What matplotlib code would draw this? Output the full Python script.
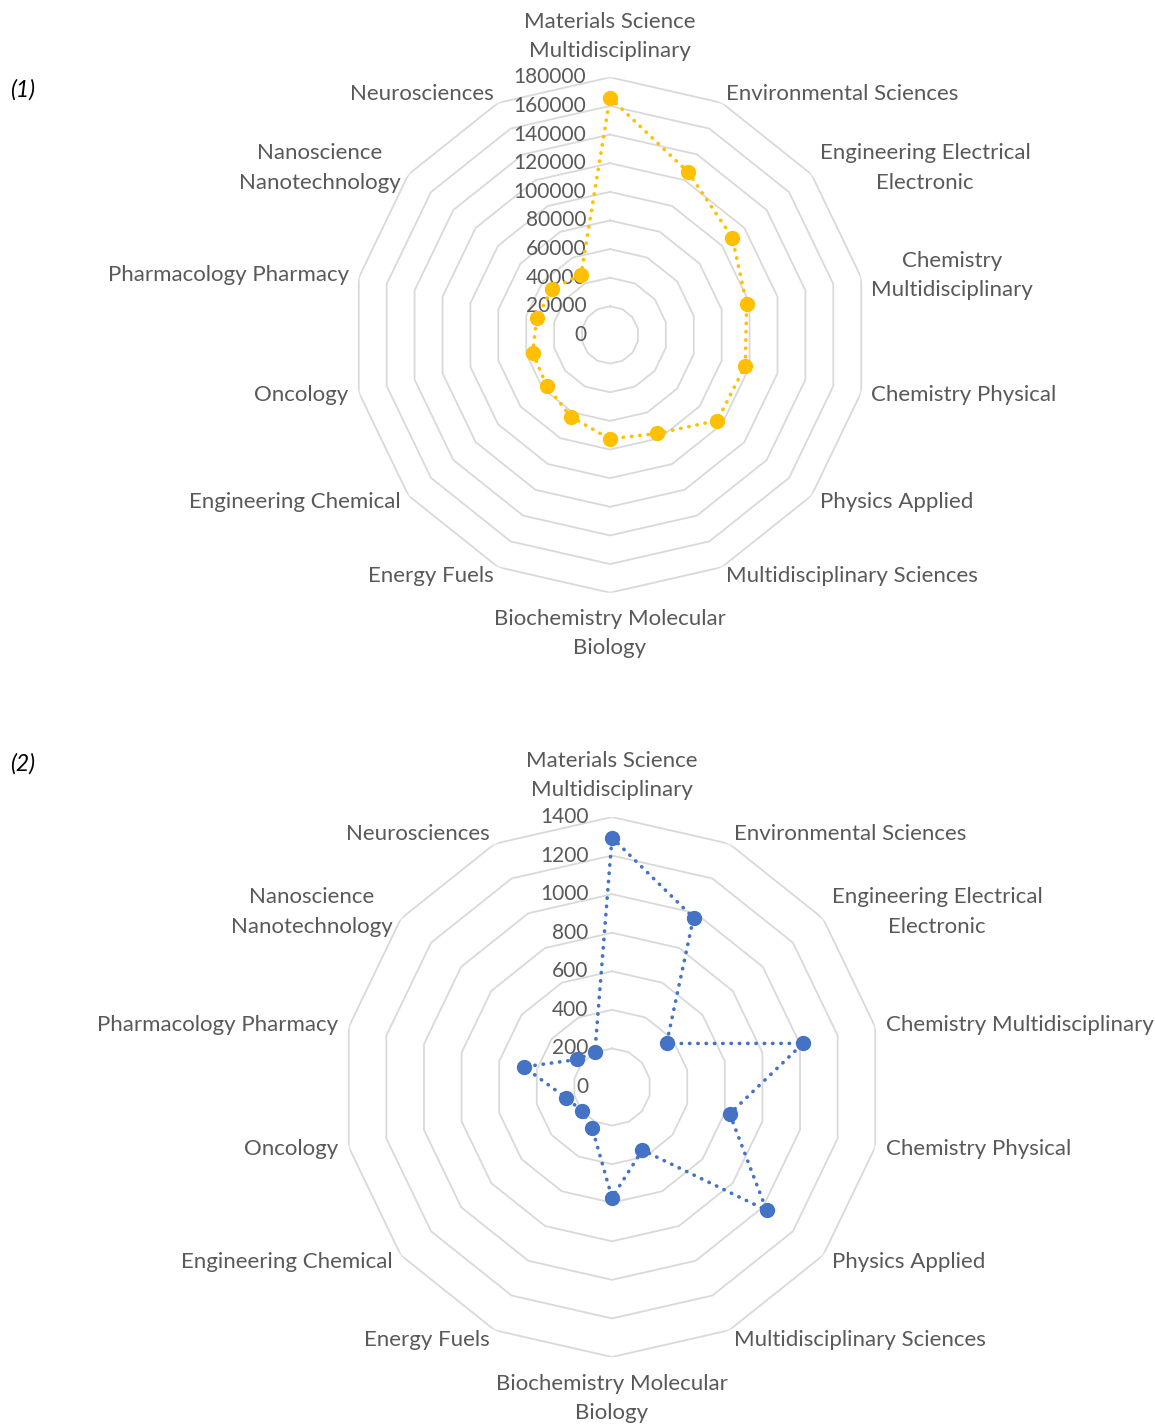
import numpy as np
import matplotlib.pyplot as plt
from matplotlib.transforms import offset_copy

plt.rcParams['font.family'] = ['Lato', 'DejaVu Sans']

categories = ['Materials Science\nMultidisciplinary', 'Environmental Sciences',
              'Engineering Electrical\nElectronic', 'Chemistry\nMultidisciplinary',
              'Chemistry Physical', 'Physics Applied', 'Multidisciplinary Sciences',
              'Biochemistry Molecular\nBiology', 'Energy Fuels', 'Engineering Chemical',
              'Oncology', 'Pharmacology Pharmacy', 'Nanoscience\nNanotechnology',
              'Neurosciences']
categories2 = list(categories)
categories2[3] = 'Chemistry Multidisciplinary'

values1 = [165800, 126100, 109200, 97900, 96900, 95800, 76300,
           72600, 63300, 56700, 55400, 52500, 51800, 46700]
values2 = [1293, 974, 362, 1016, 626, 1025, 363,
           574, 237, 199, 246, 469, 229, 204]

ticks1 = list(range(0, 180001, 20000))
ticks2 = list(range(0, 1401, 200))

TXT = '#595959'
GRID = '#D9D9D9'

fig = plt.figure(figsize=(11.55, 14.26), dpi=100)


def radar(rect, cats, vals, ticks, color, label_r):
    ax = fig.add_axes(rect, projection='polar')
    n = len(cats)
    theta = np.arange(n) * 2 * np.pi / n
    ax.set_theta_zero_location('N')
    ax.set_theta_direction(-1)
    rmax = ticks[-1]
    ax.set_ylim(0, rmax)
    ax.grid(False)
    ax.spines['polar'].set_visible(False)
    ax.set_xticks([])
    ax.set_yticks([])

    # polygon gridlines
    tc = np.append(theta, theta[0])
    for t in ticks[1:]:
        ax.plot(tc, [t] * (n + 1), color=GRID, lw=1.3, zorder=1)

    # value axis labels
    tr = offset_copy(ax.transData, fig=fig, x=-17, y=0, units='points')
    for t in ticks:
        ax.text(0, t, str(t), transform=tr, ha='right', va='center',
                fontsize=15, color=TXT, zorder=2)

    # category labels
    for th, c in zip(theta, cats):
        s = np.sin(th)
        r = rmax * label_r
        if abs(s) < 1e-6:
            ha = 'center'
            va = 'bottom' if np.cos(th) > 0 else 'top'
            r = rmax * (label_r + 0.022)
        else:
            ha = 'left' if s > 0 else 'right'
            va = 'center'
        ax.text(th, r, c, ha=ha, va=va, fontsize=16, color=TXT,
                multialignment='center', linespacing=1.6)

    vc = np.append(vals, vals[0])
    ax.plot(tc, vc, color=color, lw=2.6, linestyle=(0, (0.1, 2.2)),
            dash_capstyle='round', zorder=3)
    ax.plot(theta, vals, 'o', color=color, markersize=10, zorder=4)
    return ax


W, H = 1155, 1426
r1, cx1, cy1 = 257.7, 610, 335
r2, cx2, cy2 = 270, 612, 1087
radar([(cx1 - r1) / W, (H - cy1 - r1) / H, 2 * r1 / W, 2 * r1 / H],
      categories, values1, ticks1, '#FFC000', 1.04)
radar([(cx2 - r2) / W, (H - cy2 - r2) / H, 2 * r2 / W, 2 * r2 / H],
      categories2, values2, ticks2, '#4472C4', 1.04)

fig.text(10 / W, 1 - 90 / H, '(1)', fontsize=16.5, style='italic', color='black', va='center')
fig.text(10 / W, 1 - 764 / H, '(2)', fontsize=16.5, style='italic', color='black', va='center')

fig.savefig('out.png', dpi=100)
